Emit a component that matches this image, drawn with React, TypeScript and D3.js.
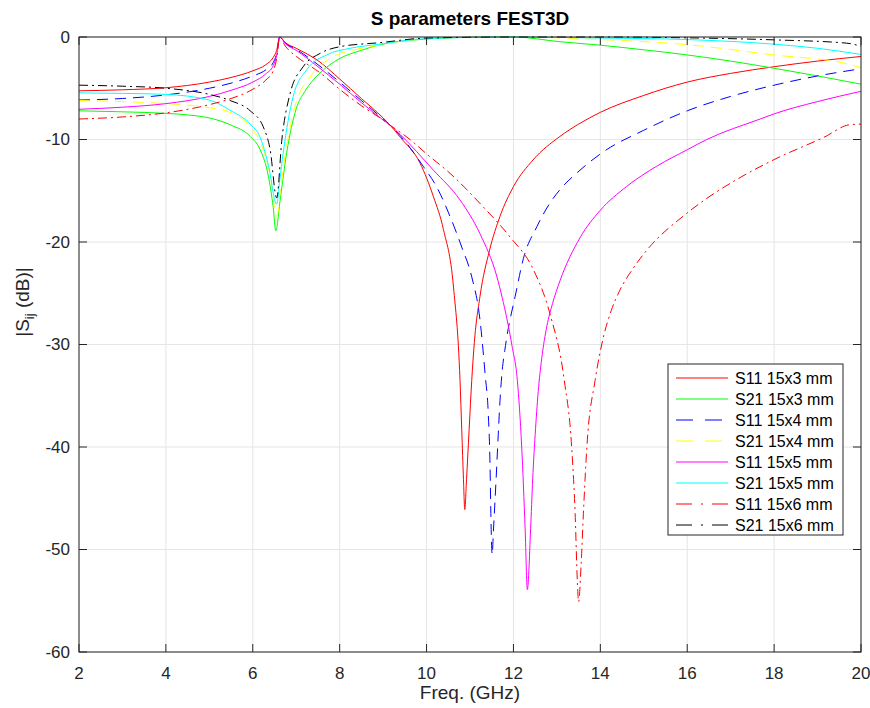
import React from 'react';
import * as d3 from 'd3';

type Pt = [number, number];

const X_TICKS = [2, 4, 6, 8, 10, 12, 14, 16, 18, 20];
const Y_TICKS = [0, -10, -20, -30, -40, -50, -60];

const S11_15x3: Pt[] = [
  [2, -5.25], [3, -5.15], [4, -4.95], [5, -4.4], [5.5, -3.95], [6.0, -3.3], [6.3, -2.7], [6.47, -2.0], [6.55, -1.3], [6.62, 0],
  [6.75, -0.55], [7.0, -1.1], [7.5, -2.3], [8.0, -4.1], [8.5, -6.0], [9.0, -7.9], [9.16, -8.6], [9.4, -9.8], [9.85, -12.3],
  [10.16, -15.6], [10.39, -18.8], [10.62, -24.4], [10.77, -33.5], [10.81, -38.3], [10.85, -43.2], [10.88, -46.1],
  [10.92, -43.2], [10.98, -38.3], [11.04, -33.5], [11.1, -29.8], [11.23, -25.3], [11.45, -20.8], [11.69, -17.5],
  [12.0, -14.6], [12.45, -12.0], [13.07, -9.7], [13.5, -8.5], [14.0, -7.35], [15, -5.7], [16.0, -4.4], [17, -3.55],
  [18.0, -2.9], [19, -2.35], [20, -1.9],
];

const S21_15x3: Pt[] = [
  [2, -7.2], [3, -7.3], [4, -7.45], [4.5, -7.6], [5, -7.9], [5.5, -8.6], [5.94, -9.7], [6.17, -11.0], [6.36, -13.6],
  [6.47, -16.6], [6.53, -18.9], [6.63, -15.9], [6.78, -11.3], [7.0, -7.0], [7.2, -5.3], [7.39, -4.2], [7.55, -3.5],
  [8.0, -2.1], [8.5, -1.3], [8.93, -0.75], [10, -0.2], [11, -0.03], [12, 0], [13.07, -0.46], [14, -0.8], [15, -1.25],
  [16, -1.75], [17, -2.35], [18, -3.05], [19, -3.8], [20, -4.6],
];

const S11_15x4: Pt[] = [
  [2, -6.15], [3, -6.0], [4, -5.65], [5, -5.0], [5.5, -4.5], [6.0, -3.8], [6.3, -3.2], [6.47, -2.5], [6.55, -1.6], [6.62, 0],
  [6.75, -0.6], [7.0, -1.2], [7.5, -2.7], [8.0, -4.4], [8.5, -6.2], [9.0, -8.0], [9.16, -8.6], [9.39, -9.6], [9.92, -12.6],
  [10.23, -14.6], [10.54, -17.5], [10.81, -20.5], [11.04, -23.4], [11.23, -27.6], [11.35, -33.0], [11.42, -36.7],
  [11.46, -41.6], [11.48, -46.5], [11.51, -50.5], [11.54, -48.1], [11.6, -43.2], [11.65, -38.8], [11.69, -35.5],
  [11.74, -32.6], [11.8, -30.6], [11.85, -29.2], [12.04, -25.3], [12.23, -21.6], [12.54, -18.5], [12.84, -16.2],
  [13.07, -14.9], [13.53, -13.0], [14.07, -11.2], [15.0, -9.1], [16.0, -7.2], [17, -5.8], [18, -4.7], [19, -3.8], [20, -3.1],
];

const S21_15x4: Pt[] = [
  [2, -6.2], [3, -6.3], [4, -6.5], [5, -6.9], [5.5, -7.4], [5.97, -8.9], [6.2, -10.5], [6.4, -13.5], [6.55, -17.5],
  [6.65, -14.5], [6.74, -11.7], [6.97, -6.8], [7.32, -3.9], [7.78, -2.1], [8.5, -1.1], [8.93, -0.78], [10, -0.15],
  [12, 0], [14, -0.25], [16, -0.75], [18, -1.75], [19.67, -2.6], [20, -3.0],
];

const S11_15x5: Pt[] = [
  [2, -7.05], [3, -6.85], [4, -6.5], [5, -5.8], [5.5, -5.2], [6.0, -4.4], [6.3, -3.6], [6.47, -2.8], [6.55, -1.8], [6.62, 0],
  [6.75, -0.65], [7.0, -1.3], [7.5, -2.9], [8.0, -4.6], [8.5, -6.4], [9.0, -8.1], [9.16, -8.6], [9.39, -9.5], [10.16, -13.0],
  [10.77, -15.9], [11.23, -19.2], [11.62, -23.4], [11.74, -25.4], [11.85, -27.5], [11.97, -30.2], [12.09, -33.5],
  [12.19, -40], [12.27, -48.1], [12.32, -53.9], [12.4, -47.5], [12.45, -42.5], [12.5, -38.8], [12.57, -34.6],
  [12.65, -31.4], [12.77, -28.2], [12.9, -26.0], [13.07, -23.8], [13.53, -19.6], [14.0, -16.9], [14.6, -14.6],
  [15.3, -12.6], [16, -11.0], [16.45, -10.0], [17.68, -8.0], [18, -7.5], [19, -6.3], [20, -5.3],
];

const S21_15x5: Pt[] = [
  [2, -5.45], [3, -5.5], [4, -5.6], [5, -6.15], [5.5, -7.2], [5.94, -8.5], [6.17, -9.8], [6.36, -12.5], [6.55, -16.3],
  [6.62, -14.0], [6.7, -11.3], [6.93, -5.8], [7.24, -3.2], [7.7, -1.75], [8.24, -1.1], [8.93, -0.7], [10, -0.15],
  [12, 0], [14, -0.1], [16, -0.25], [18, -0.7], [19, -1.1], [20, -1.7],
];

const S11_15x6: Pt[] = [
  [2, -8.0], [3, -7.8], [4, -7.4], [5, -6.6], [5.5, -6.0], [6.0, -5.1], [6.3, -4.2], [6.47, -3.3], [6.55, -2.1], [6.62, 0],
  [6.75, -0.9], [6.86, -1.4], [7.1, -2.2], [7.55, -3.5], [8.0, -5.1], [8.5, -6.7], [9.0, -8.1], [9.16, -8.6], [9.62, -10.0],
  [10.0, -11.4], [10.54, -13.3], [11.31, -16.6], [11.92, -19.5], [12.46, -22.7], [12.84, -27.0], [13.17, -33.5],
  [13.34, -40], [13.42, -46.5], [13.47, -53], [13.5, -55.1], [13.56, -51.3], [13.61, -46.5], [13.69, -40],
  [13.88, -33.5], [14.07, -29.3], [14.25, -26.7], [14.45, -24.7], [14.75, -22.6], [15.07, -20.8], [15.99, -17.2],
  [16.5, -15.6], [17.06, -14.1], [17.98, -12.0], [19.14, -9.8], [19.75, -8.55], [20, -8.5],
];

const S21_15x6: Pt[] = [
  [2, -4.7], [3, -4.8], [4, -5.0], [5, -5.6], [5.48, -6.2], [5.94, -7.2], [6.24, -8.75], [6.4, -11.0], [6.55, -15.7],
  [6.67, -10.0], [6.86, -5.5], [7.16, -2.9], [7.55, -1.6], [8.0, -0.95], [8.93, -0.55], [10, -0.1], [12, 0], [14, 0],
  [16, -0.08], [18, -0.28], [19.67, -0.6], [20, -0.9],
];

const NAMES = ['S11 15x3 mm', 'S21 15x3 mm', 'S11 15x4 mm', 'S21 15x4 mm', 'S11 15x5 mm', 'S21 15x5 mm', 'S11 15x6 mm', 'S21 15x6 mm'];
const DATA = [S11_15x3, S21_15x3, S11_15x4, S21_15x4, S11_15x5, S21_15x5, S11_15x6, S21_15x6];
const COLORS = ['#ff0000', '#00ff00', '#0000ff', '#ffff00', '#ff00ff', '#00ffff', '#ff0000', '#000000'];
const DASHES = [undefined, undefined, '11,7', '11,7', undefined, undefined, '9,4,2,4', '9,4,2,4'];
const LEGEND_DASHES = [undefined, undefined, '17,12', '17,12', undefined, undefined, '16,9,2,9', '16,9,2,9'];

const W = 870, H = 708;
const M = { left: 79, right: 861, top: 37, bottom: 652 };
const FONT = 'Liberation Sans, Arial, Helvetica, sans-serif';
const AX = '#262626';

export default function App() {
  const x = d3.scaleLinear().domain([2, 20]).range([M.left, M.right]);
  const y = d3.scaleLinear().domain([-60, 0]).range([M.bottom, M.top]);
  const line = d3.line<Pt>().x(d => x(d[0])).y(d => y(d[1])).curve(d3.curveMonotoneX);

  const lx = 668, ly = 364, lw = 175, lh = 171;

  return (
    <svg width={W} height={H} style={{ position: 'absolute', left: 0, top: 0, background: '#fff' }} fontFamily={FONT}>
      <rect x={0} y={0} width={W} height={H} fill="#fff" />
      <defs>
        <clipPath id="plotclip">
          <rect x={M.left} y={M.top - 1} width={M.right - M.left} height={M.bottom - M.top + 2} />
        </clipPath>
      </defs>
      {X_TICKS.map(t => (
        <line key={'gx' + t} x1={x(t)} x2={x(t)} y1={M.top} y2={M.bottom} stroke="#e5e5e5" strokeWidth={1} />
      ))}
      {Y_TICKS.map(t => (
        <line key={'gy' + t} x1={M.left} x2={M.right} y1={y(t)} y2={y(t)} stroke="#e5e5e5" strokeWidth={1} />
      ))}
      <g clipPath="url(#plotclip)">
        {DATA.map((d, i) => (
          <path key={NAMES[i]} d={line(d) || ''} fill="none" stroke={COLORS[i]} strokeWidth={1}
            strokeDasharray={DASHES[i]} />
        ))}
      </g>
      <rect x={M.left} y={M.top} width={M.right - M.left} height={M.bottom - M.top} fill="none" stroke={AX} strokeWidth={1} />
      {X_TICKS.map(t => (
        <g key={'tx' + t}>
          <line x1={x(t)} x2={x(t)} y1={M.bottom} y2={M.bottom - 8} stroke={AX} />
          <line x1={x(t)} x2={x(t)} y1={M.top} y2={M.top + 8} stroke={AX} />
          <text x={x(t)} y={679} fontSize={17} textAnchor="middle" fill={AX}>{t}</text>
        </g>
      ))}
      {Y_TICKS.map(t => (
        <g key={'ty' + t}>
          <line x1={M.left} x2={M.left + 8} y1={y(t)} y2={y(t)} stroke={AX} />
          <line x1={M.right} x2={M.right - 8} y1={y(t)} y2={y(t)} stroke={AX} />
          <text x={70} y={y(t)} dy="0.35em" fontSize={17} textAnchor="end" fill={AX}>{t}</text>
        </g>
      ))}
      <text x={(M.left + M.right) / 2} y={25} fontSize={19} fontWeight="bold" textAnchor="middle" fill="#000">S parameters FEST3D</text>
      <text x={(M.left + M.right) / 2} y={699} fontSize={19} textAnchor="middle" fill={AX}>Freq. (GHz)</text>
      <text transform={`translate(29,302) rotate(-90)`} fontSize={19} textAnchor="middle" fill={AX}>
        |S<tspan fontSize={13} dy={5}>ij</tspan><tspan dy={-5}> (dB)|</tspan>
      </text>
      <rect x={lx} y={ly} width={lw} height={lh} fill="#fff" stroke={AX} strokeWidth={1} />
      {NAMES.map((n, i) => {
        const ry = 378 + i * 21;
        return (
          <g key={'lg' + n}>
            <line x1={676} x2={728} y1={ry} y2={ry} stroke={COLORS[i]} strokeWidth={1} strokeDasharray={LEGEND_DASHES[i]} />
            <text x={735} y={ry} dy="0.35em" fontSize={16} fill="#000">{n}</text>
          </g>
        );
      })}
    </svg>
  );
}
